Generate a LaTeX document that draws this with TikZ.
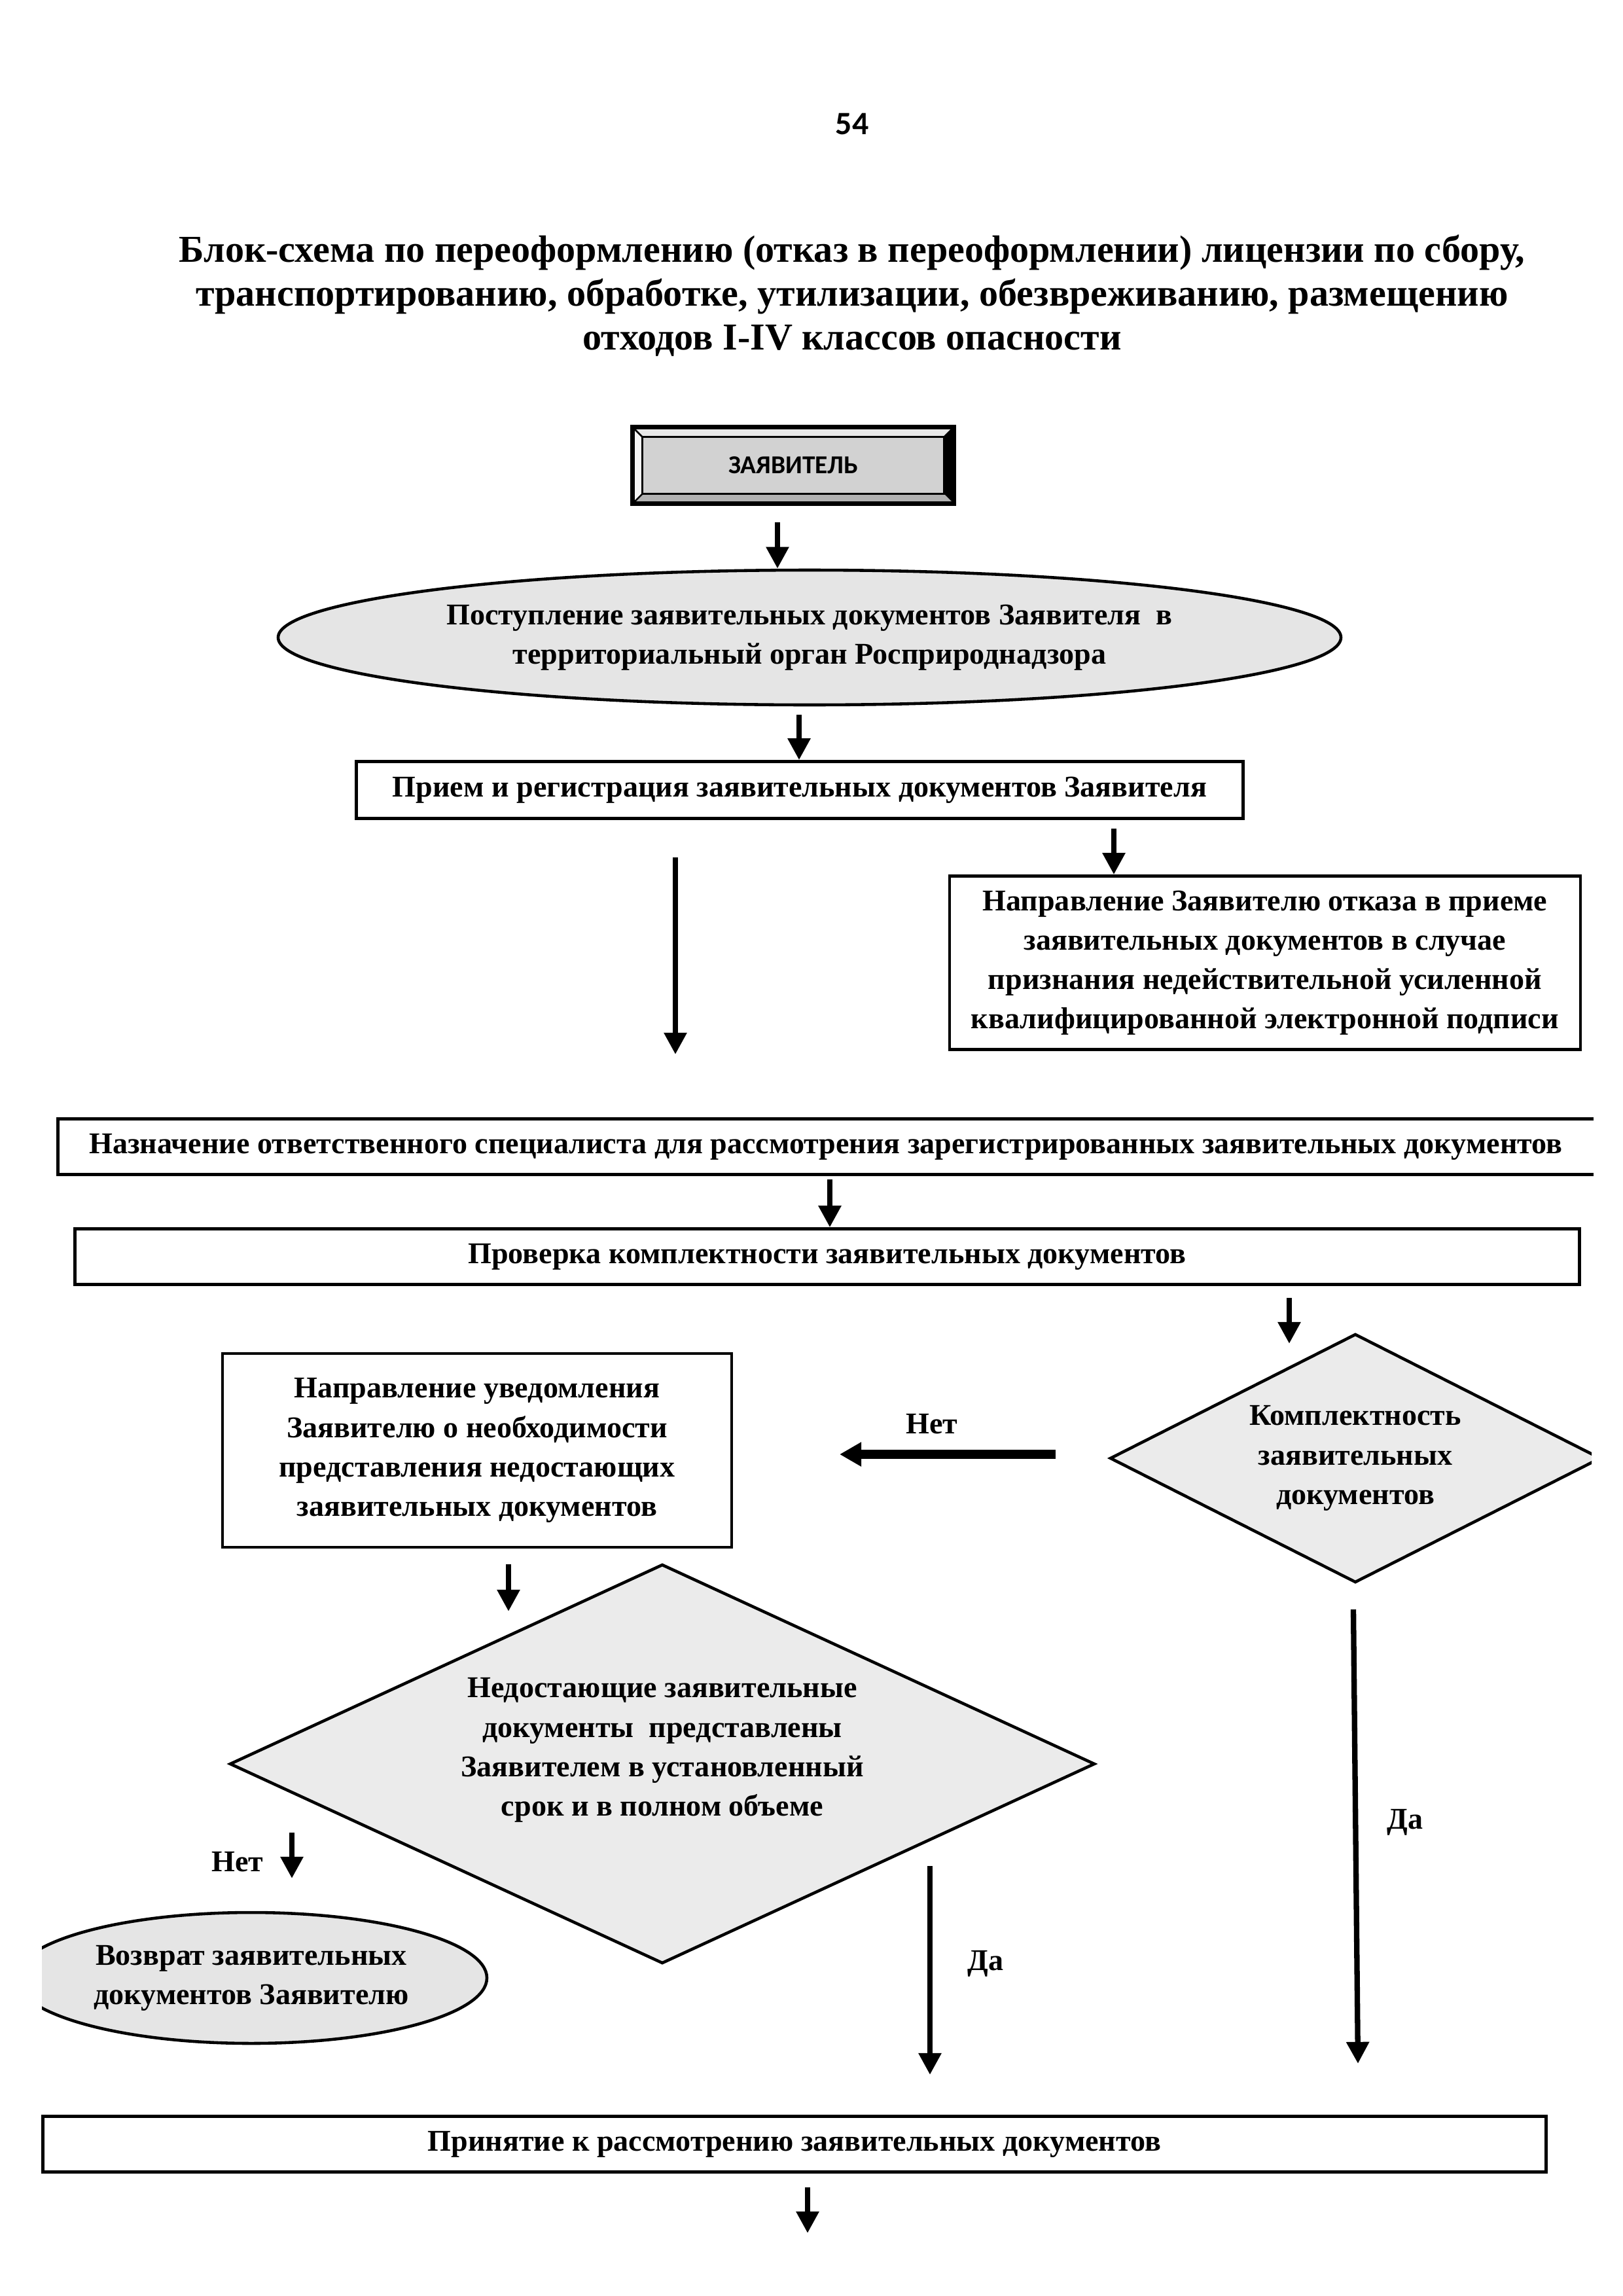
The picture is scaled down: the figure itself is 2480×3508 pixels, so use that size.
\documentclass[tikz,border=0pt]{standalone}
\usepackage{fontspec}
\setmainfont{Liberation Serif}
\newfontfamily\btnfont{Carlito}
\usetikzlibrary{arrows.meta,shapes.geometric,backgrounds}

\newdimen\px \px=0.084677mm

\tikzset{
    txt/.style={font=\bfseries\fontsize{11.1}{14.5}\selectfont, align=center},
    box/.style={txt, draw, line width=1.1pt, inner sep=0pt},
    oval/.style={txt, ellipse, draw, line width=1.1pt, fill=gray!20, inner sep=0pt},
    rhomb/.style={txt, diamond, draw, line width=1.1pt, fill=gray!16, inner sep=0pt},
    arr/.style={line width=2pt, -{Triangle[width=8pt,length=8pt]}},
    fatarr/.style={line width=3.2pt, -{Triangle[width=8.5pt,length=8pt]}},
    lbl/.style={font=\bfseries\fontsize{11.1}{14.5}\selectfont}
}

\begin{document}
\begin{tikzpicture}[x=0.084677mm, y=-0.084677mm]
    \useasboundingbox (0,0) rectangle (2480,3508);

    % page number and title
    \node (pnum) at (1302,190) {\btnfont\bfseries\fontsize{12}{14}\selectfont 54};
    \node (title) at (1302,452) [font=\bfseries\fontsize{14}{16.1}\selectfont, align=center]
        {Блок-схема по переоформлению (отказ в переоформлении) лицензии по сбору,\\
         транспортированию, обработке, утилизации, обезвреживанию, размещению\\
         отходов I-IV классов опасности};

    % applicant button
    \node (zv) at (1212,711) [minimum width=489\px, minimum height=115\px, inner sep=0pt]
        {\btnfont\bfseries\fontsize{9.5}{11}\selectfont ЗАЯВИТЕЛЬ};
    \begin{scope}[on background layer]
        \fill[gray!35] (zv.north west) rectangle (zv.south east);
        \fill[gray!18] (zv.north west) -- (zv.north east) -- ([shift={(-15,15)}]zv.north east) -- ([shift={(15,15)}]zv.north west) -- cycle;
        \fill[gray!8] (zv.north west) -- ([shift={(15,15)}]zv.north west) -- ([shift={(15,-15)}]zv.south west) -- (zv.south west) -- cycle;
        \fill[gray!60] (zv.south west) -- ([shift={(15,-15)}]zv.south west) -- ([shift={(-15,-15)}]zv.south east) -- (zv.south east) -- cycle;
        \fill[black] (zv.north east) -- (zv.south east) -- ([shift={(-15,-15)}]zv.south east) -- ([shift={(-15,15)}]zv.north east) -- cycle;
        \draw[line width=0.8pt] ([shift={(15,15)}]zv.north west) rectangle ([shift={(-15,-15)}]zv.south east);
        \draw[line width=0.6pt] (zv.north west) -- ([shift={(15,15)}]zv.north west)
            (zv.north east) -- ([shift={(-15,15)}]zv.north east)
            (zv.south west) -- ([shift={(15,-15)}]zv.south west);
        \draw[line width=1.6pt] (zv.north west) rectangle (zv.south east);
    \end{scope}

    \node (e1) at (1237,974) [oval, minimum width=1624\px, minimum height=206\px]
        {Поступление заявительных документов Заявителя\ \ в\\
         территориальный орган Росприроднадзора};
    \node (b1) at (1222,1207) [box, minimum width=1355\px, minimum height=87\px]
        {Прием и регистрация заявительных документов Заявителя};
    \node (b2) at (1933,1471) [box, minimum width=964\px, minimum height=265\px]
        {Направление Заявителю отказа в приеме\\
         заявительных документов в случае\\
         признания недействительной усиленной\\
         квалифицированной электронной подписи};

    % open on the right side
    \node (b3) at (1262,1752) [txt, minimum width=2345\px, minimum height=83\px, inner sep=0pt]
        {Назначение ответственного специалиста для рассмотрения зарегистрированных заявительных документов};
    \draw[line width=1.1pt] (b3.north east) -- (b3.north west) -- (b3.south west) -- (b3.south east);

    \node (b4) at (1264,1920) [box, minimum width=2299\px, minimum height=85\px]
        {Проверка комплектности заявительных документов};
    \node (b5) at (729,2216) [box, minimum width=778\px, minimum height=296\px]
        {Направление уведомления\\
         Заявителю о необходимости\\
         представления недостающих\\
         заявительных документов};

    \begin{scope}
        \clip (64,0) rectangle (2432,3508);
        \node (d1) at (2071,2228) [rhomb, minimum width=750\px, minimum height=380\px, aspect=1.97]
            {Комплектность\\ заявительных\\ документов};
        \node (e2) at (384,3022) [oval, minimum width=720\px, minimum height=200\px]
            {Возврат заявительных\\ документов Заявителю};
    \end{scope}

    \node (d2) at (1012,2695) [rhomb, minimum width=1322\px, minimum height=610\px, aspect=2.17, text depth=52\px]
        {Недостающие заявительные\\
         документы\ \ представлены\\
         Заявителем в установленный\\
         срок и в полном объеме};
    \node (b6) at (1214,3276) [box, minimum width=2297\px, minimum height=85\px]
        {Принятие к рассмотрению заявительных документов};

    % labels
    \node (no1) at (1424,2176) [lbl] {Нет};
    \node (no2) at (363,2845) [lbl] {Нет};
    \node (yes1) at (1506,3000) [lbl] {Да};
    \node (yes2) at (2147,2784) [lbl] {Да};

    % connectors
    \coordinate (a1) at (1188,798);
    \coordinate (a2) at (1221,1092);
    \coordinate (a3) at (1032,1310);
    \coordinate (a3e) at (1032,1611);
    \coordinate (a4) at (1702,1266);
    \coordinate (a5) at (1268,1802);
    \coordinate (a6) at (1970,1983);
    \coordinate (a6e) at (1970,2053);
    \coordinate (a7) at (1613,2222);
    \coordinate (a7e) at (1283,2222);
    \coordinate (a8) at (777,2390);
    \coordinate (a8e) at (777,2462);
    \coordinate (a9) at (446,2800);
    \coordinate (a9e) at (446,2870);
    \coordinate (a10) at (1421,2851);
    \coordinate (a10e) at (1421,3170);
    \coordinate (a11) at (2068,2459);
    \coordinate (a11e) at (2075,3153);
    \coordinate (a12) at (1234,3342);
    \coordinate (a12e) at (1234,3412);

    \draw[arr] (a1) -- (a1 |- e1.north);
    \draw[arr] (a2) -- (a2 |- b1.north);
    \draw[arr] (a3) -- (a3e);
    \draw[arr] (a4) -- (a4 |- b2.north);
    \draw[arr] (a5) -- (a5 |- b4.north);
    \draw[arr] (a6) -- (a6e);
    \draw[fatarr] (a7) -- (a7e);
    \draw[arr] (a8) -- (a8e);
    \draw[arr] (a9) -- (a9e);
    \draw[arr] (a10) -- (a10e);
    \draw[arr] (a11) -- (a11e);
    \draw[arr] (a12) -- (a12e);
\end{tikzpicture}
\end{document}
